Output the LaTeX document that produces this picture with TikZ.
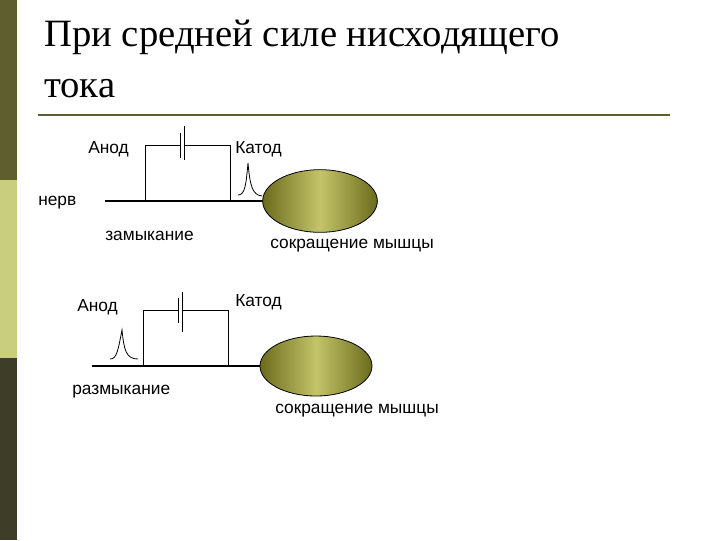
\documentclass[tikz,border=0pt]{standalone}
\usepackage{fontspec}
\usetikzlibrary{shapes.geometric}
\setmainfont{Liberation Serif}
\newfontfamily\lab{Liberation Sans}
\begin{document}
\begin{tikzpicture}[x=0.75pt,y=-0.75pt,
  lbl/.style={font=\lab\fontsize{13}{15}\selectfont,inner sep=0,anchor=west},
  wire/.style={line width=0.6pt},
  nerve/.style={line width=1.6pt},
  muscle/.style={draw=black,line width=0.6pt,left color=olive!85!black,right color=olive!85!black,middle color=olmid,shading angle=90}]
\definecolor{barD}{HTML}{5E5E2E}
\definecolor{barL}{HTML}{C9CD7E}
\definecolor{barB}{HTML}{3E3E28}
\definecolor{olive}{HTML}{7E7E22}
\definecolor{olmid}{HTML}{C4C46A}
\useasboundingbox (0,0) rectangle (720,540);
\fill[barD] (0,0) rectangle (17,180);
\fill[barL] (0,180) rectangle (17,358);
\fill[barB] (0,358) rectangle (17,540);
\node[inner sep=0,anchor=north west,align=left,font=\fontsize{29}{38}\selectfont] (title) at (44,20) {При средней силе нисходящего\\тока};
\draw[barD,line width=1.2pt] (38,115) -- (670,115);
% diagram 1
\node[lbl] (a1) at (88,149) {Анод};
\node[lbl] (k1) at (235,149) {Катод};
\node[lbl] (n1) at (38,203) {нерв};
\node[lbl] (z1) at (105,236) {замыкание};
\node[lbl] (s1) at (270,246) {сокращение мышцы};
\draw[wire] (145,201) -- (145,145) -- (180,145) (184,145) -- (230,145) -- (230,201);
\draw[wire] (180,133) -- (180,158) (184,126) -- (184,160);
\draw[nerve] (105,201) -- (265,201);
\draw[wire] (238,195) .. controls (245,195) and (246,185) .. (248,163) .. controls (250,185) and (252,195) .. (262,196);
\node[muscle,ellipse,minimum width=86pt,minimum height=47pt,inner sep=0] (m1) at (320,201) {};
% diagram 2
\node[lbl] (a2) at (77,307) {Анод};
\node[lbl] (k2) at (235,302) {Катод};
\node[lbl] (r2) at (72,392) {размыкание};
\node[lbl] (s2) at (275,411) {сокращение мышцы};
\draw[wire] (143,366) -- (143,310) -- (178,310) (182,310) -- (228,310) -- (228,366);
\draw[wire] (178,298) -- (178,323) (182,292) -- (182,332);
\draw[nerve] (92,366) -- (262,366);
\draw[wire] (110,359) .. controls (117,359) and (118,350) .. (122,330) .. controls (124,350) and (126,359) .. (138,359);
\node[muscle,ellipse,minimum width=84pt,minimum height=45pt,inner sep=0] (m2) at (316,366) {};
\end{tikzpicture}
\end{document}
